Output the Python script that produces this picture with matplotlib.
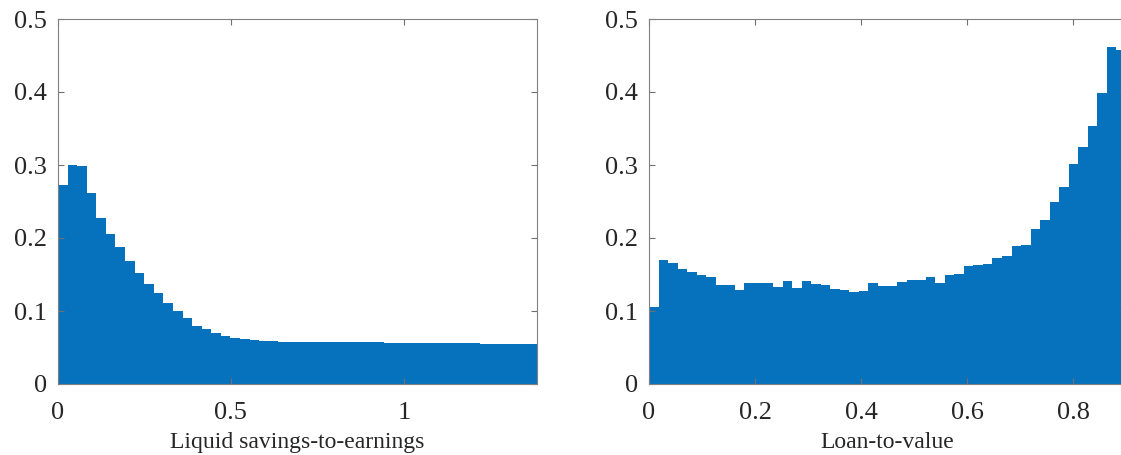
import matplotlib
matplotlib.use('Agg')
import matplotlib.pyplot as plt
import numpy as np

plt.rcParams['font.family'] = ['Liberation Serif', 'DejaVu Serif']

# histogram heights, 50 bins per panel
liquid_xmax = 1.385
liquid_vals = [0.273, 0.300, 0.299, 0.262, 0.228, 0.205, 0.187, 0.169, 0.152, 0.137,
               0.124, 0.111, 0.100, 0.090, 0.080, 0.075, 0.070, 0.066, 0.063, 0.061,
               0.060, 0.059, 0.0585, 0.058, 0.058, 0.058, 0.0578, 0.0577, 0.0575, 0.0574,
               0.0573, 0.0572, 0.057, 0.0569, 0.0568, 0.0567, 0.0566, 0.0565, 0.0563, 0.0562,
               0.056, 0.0558, 0.0556, 0.0555, 0.0553, 0.0551, 0.055, 0.0548, 0.0546, 0.0545]

ltv_xmax = 0.9
ltv_vals = [0.106, 0.170, 0.166, 0.157, 0.154, 0.150, 0.146, 0.136, 0.135, 0.129,
            0.139, 0.138, 0.138, 0.133, 0.141, 0.131, 0.141, 0.137, 0.136, 0.130,
            0.129, 0.126, 0.127, 0.138, 0.134, 0.134, 0.140, 0.142, 0.142, 0.146,
            0.138, 0.150, 0.151, 0.162, 0.163, 0.164, 0.172, 0.175, 0.189, 0.191,
            0.213, 0.224, 0.249, 0.270, 0.301, 0.324, 0.354, 0.398, 0.462, 0.457]

liquid_ticks = [0, 0.5, 1]
liquid_ticklabels = ['0', '0.5', '1']
ltv_ticks = [0, 0.2, 0.4, 0.6, 0.8]
ltv_ticklabels = ['0', '0.2', '0.4', '0.6', '0.8']
y_ticks = [0, 0.1, 0.2, 0.3, 0.4, 0.5]
y_ticklabels = ['0', '0.1', '0.2', '0.3', '0.4', '0.5']

blue = '#0672BD'
W, H = 1121, 455

fig = plt.figure(figsize=(W / 100, H / 100), dpi=100)
ax1 = fig.add_axes([58 / W, 71 / H, 479 / W, 365 / H])
ax2 = fig.add_axes([649 / W, 71 / H, 477 / W, 365 / H])


def draw(ax, vals, xmax, ticks, ticklabels, xlabel):
    edges = np.linspace(0, xmax, len(vals) + 1)
    ax.bar(edges[:-1], vals, width=np.diff(edges), align='edge',
           color=blue, linewidth=0)
    ax.set_xlim(0, xmax)
    ax.set_ylim(0, 0.5)
    ax.set_xticks(ticks)
    ax.set_xticklabels(ticklabels)
    ax.set_yticks(y_ticks)
    ax.set_yticklabels(y_ticklabels)
    ax.tick_params(direction='in', length=4, width=0.8, color='#707070',
                   top=True, right=True, labelsize=19, labelcolor='#262626')
    ax.tick_params(axis='x', pad=13)
    ax.tick_params(axis='y', pad=8)
    for s in ax.spines.values():
        s.set_color('#808080')
        s.set_linewidth(0.8)
    ax.set_xlabel(xlabel, fontsize=17, color='#262626', labelpad=6)


draw(ax1, liquid_vals, liquid_xmax, liquid_ticks, liquid_ticklabels,
     'Liquid savings-to-earnings')
draw(ax2, ltv_vals, ltv_xmax, ltv_ticks, ltv_ticklabels, 'Loan-to-value')

fig.savefig('out.png', dpi=100)
